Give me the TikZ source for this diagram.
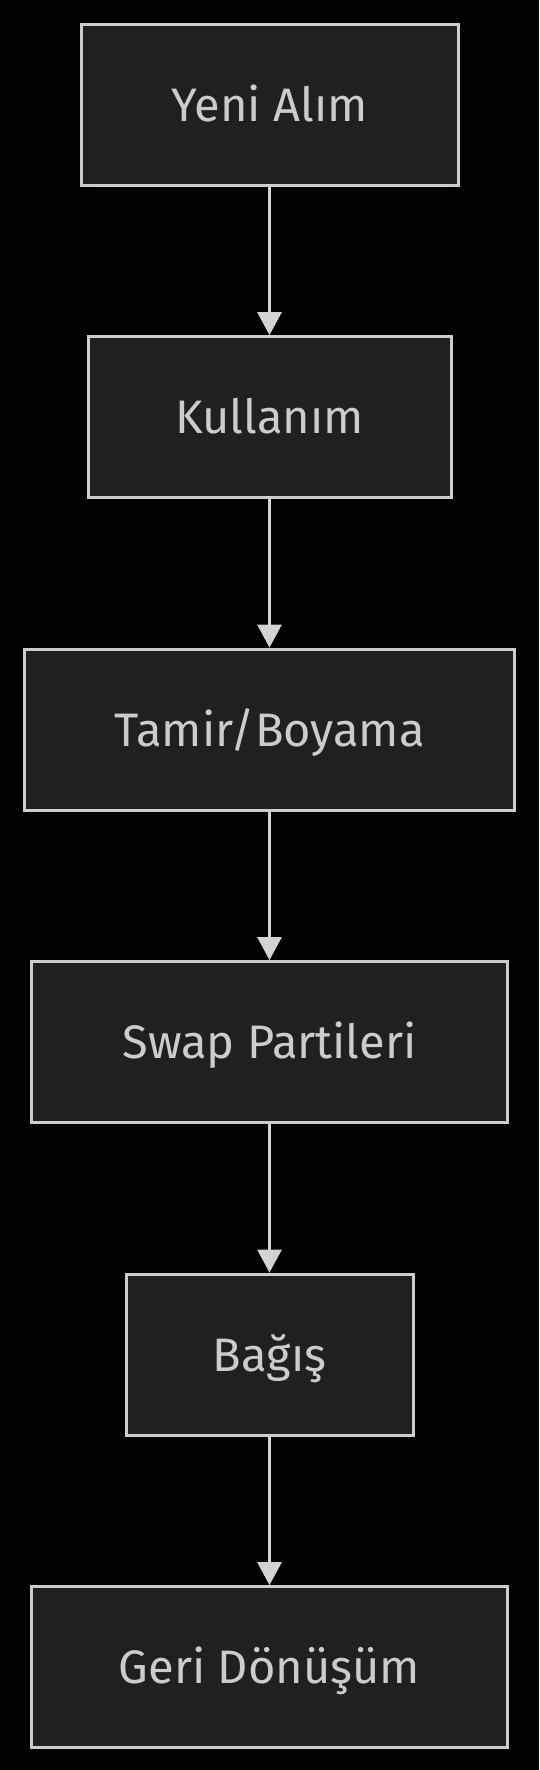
\documentclass[tikz,border=0pt]{standalone}
\usepackage{fontspec}
\setmainfont{Fira Sans}
\usetikzlibrary{arrows.meta}
\definecolor{boxfill}{HTML}{1F2020}
\definecolor{boxline}{HTML}{CCCCCC}
\definecolor{edgeline}{HTML}{D3D3D3}
\begin{document}
\begin{tikzpicture}[x=1pt,y=-1pt,
	stage/.style={draw=boxline, fill=boxfill, line width=3pt, text=boxline,
		font=\fontsize{47}{55}\selectfont, minimum height=161pt,
		text height=33pt, text depth=0pt, inner sep=0pt},
	flow/.style={draw=edgeline, line width=3pt,
		-{Triangle[length=23pt,width=24pt]}}]
			\fill[black] (0,0) rectangle (539,1770);
			\useasboundingbox (0,0) rectangle (539,1770);
			\node[stage, minimum width=377pt] (A) at (269.5,104.6){Yeni Alım};
			\node[stage, minimum width=363pt] (B) at (269.5,417.1){Kullanım};
			\node[stage, minimum width=490pt] (C) at (269.5,729.6){Tamir/Boyama};
			\node[stage, minimum width=476pt] (D) at (269.5,1042.1){Swap Partileri};
			\node[stage, minimum width=287pt] (E) at (269.5,1354.6){Bağış};
			\node[stage, minimum width=476pt] (F) at (269.5,1667.1){Geri Dönüşüm};
			\draw[flow] (A) -- (B);
			\draw[flow] (B) -- (C);
			\draw[flow] (C) -- (D);
			\draw[flow] (D) -- (E);
			\draw[flow] (E) -- (F);
		\end{tikzpicture}
\end{document}
